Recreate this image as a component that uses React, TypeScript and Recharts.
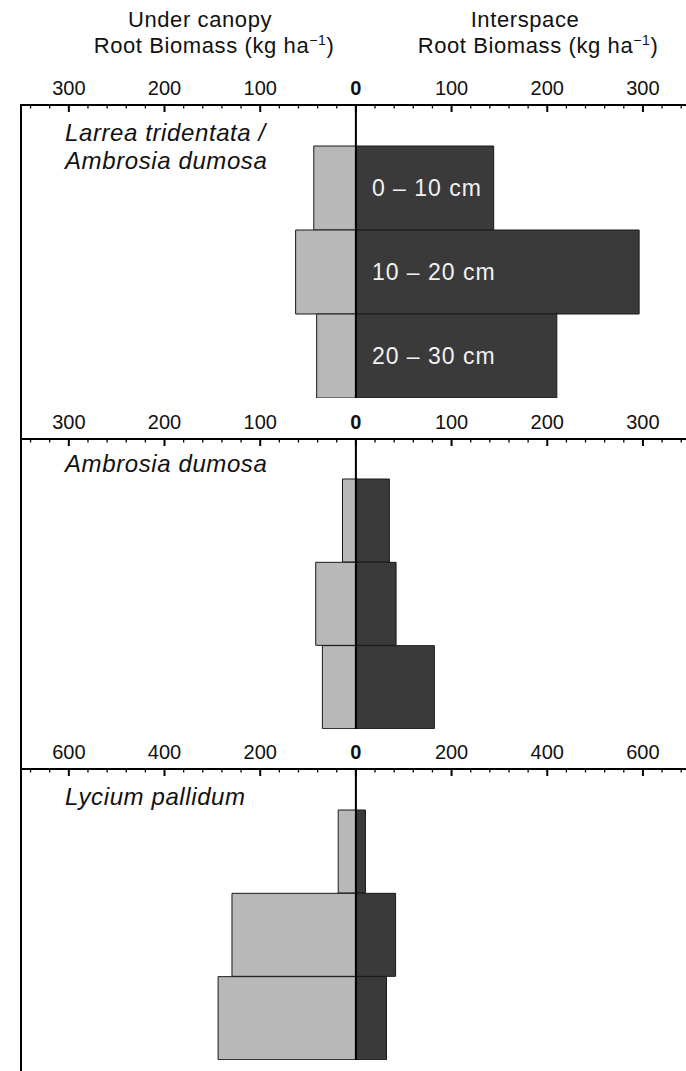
import React from 'react';
import { BarChart, Bar, XAxis, YAxis, ReferenceLine, LabelList } from 'recharts';

// Soil depth classes (categories)
const depths = ['0 – 10 cm', '10 – 20 cm', '20 – 30 cm'];

// Root biomass (kg ha-1) under canopy (drawn to the left) and in interspace (right)
const larreaUnder = [44, 63, 41];
const larreaInter = [144, 296, 210];
const ambrosiaUnder = [14, 42, 35];
const ambrosiaInter = [35, 42, 82];
const lyciumUnder = [37, 259, 288];
const lyciumInter = [20, 83, 64];

// Tick labels
const majorTicksSmall = [-300, -200, -100, 0, 100, 200, 300];
const majorTicksLarge = [-600, -400, -200, 0, 200, 400, 600];

const FONT = '"Liberation Sans", Arial, Helvetica, sans-serif';
const LIGHT = '#b8b8b8';
const DARK = '#3a3a3a';
const TICK_MARGIN = 10;

const buildRows = (under: number[], inter: number[]) =>
  depths.map((d, i) => ({ depth: d, under: -under[i], inter: inter[i] }));

const buildMinor = (limit: number, step: number) => {
  const out: number[] = [];
  for (let v = -limit; v <= limit; v += step) out.push(v);
  return out;
};

const makeTick = (majors: number[]) => (props: any) => {
  const { x, y, payload } = props;
  const v = payload.value;
  const isMajor = majors.includes(v);
  const axisY = y + TICK_MARGIN;
  return (
    <g>
      <line
        x1={x}
        x2={x}
        y1={axisY}
        y2={axisY + (isMajor ? 7 : 3.5)}
        stroke="#000"
        strokeWidth={isMajor ? 2 : 1.3}
      />
      {isMajor && (
        <text
          x={x}
          y={y}
          textAnchor="middle"
          fontSize={20}
          fontFamily={FONT}
          fontWeight={v === 0 ? 'bold' : 'normal'}
          fill="#111"
        >
          {Math.abs(v)}
        </text>
      )}
    </g>
  );
};

const renderDepth = (props: any) => {
  const { x, y, height, value } = props;
  return (
    <text
      x={x + 16}
      y={y + height / 2}
      dominantBaseline="central"
      fill="#f2f2f2"
      fontSize={23}
      letterSpacing={1}
      fontFamily={FONT}
    >
      {value}
    </text>
  );
};

type PanelProps = {
  top: number;
  height: number;
  padTop: number;
  under: number[];
  inter: number[];
  domain: [number, number];
  majors: number[];
  minorLimit: number;
  minorStep: number;
  showDepth?: boolean;
};

const Panel = (p: PanelProps) => {
  const rows = buildRows(p.under, p.inter);
  return (
    <div style={{ position: 'absolute', left: 0, top: p.top }}>
      <BarChart
        width={686}
        height={p.height}
        data={rows}
        layout="vertical"
        stackOffset="sign"
        barCategoryGap={0}
        margin={{ top: 0, right: 0, bottom: 0, left: 21 }}
      >
        <XAxis
          type="number"
          orientation="top"
          domain={p.domain}
          allowDataOverflow
          ticks={buildMinor(p.minorLimit, p.minorStep)}
          interval={0}
          tickSize={0}
          tickMargin={TICK_MARGIN}
          tick={makeTick(p.majors)}
          axisLine={{ stroke: '#000', strokeWidth: 2 }}
          height={30}
        />
        <YAxis type="category" dataKey="depth" hide padding={{ top: p.padTop, bottom: 0 }} />
        <Bar dataKey="under" stackId="s" fill={LIGHT} stroke="#1a1a1a" strokeWidth={1} isAnimationActive={false} />
        <Bar dataKey="inter" stackId="s" fill={DARK} stroke="#1a1a1a" strokeWidth={1} isAnimationActive={false}>
          {p.showDepth && <LabelList dataKey="depth" content={renderDepth} />}
        </Bar>
        <ReferenceLine x={0} stroke="#000" strokeWidth={2} />
      </BarChart>
    </div>
  );
};

export default function App() {
  return (
    <div
      style={{
        position: 'absolute',
        left: 0,
        top: 0,
        width: 686,
        height: 1071,
        overflow: 'hidden',
        background: '#fff',
        fontFamily: FONT,
      }}
    >
      <Panel
        top={75}
        height={323}
        padTop={41}
        under={larreaUnder}
        inter={larreaInter}
        domain={[-350, 345]}
        majors={majorTicksSmall}
        minorLimit={340}
        minorStep={20}
        showDepth
      />
      <Panel
        top={409}
        height={320}
        padTop={40}
        under={ambrosiaUnder}
        inter={ambrosiaInter}
        domain={[-350, 345]}
        majors={majorTicksSmall}
        minorLimit={340}
        minorStep={20}
      />
      <Panel
        top={739}
        height={321}
        padTop={41}
        under={lyciumUnder}
        inter={lyciumInter}
        domain={[-700, 690]}
        majors={majorTicksLarge}
        minorLimit={680}
        minorStep={40}
      />
      <div style={{ position: 'absolute', left: 20, top: 104, width: 2, height: 967, background: '#000' }} />
      <svg
        width={686}
        height={1071}
        style={{ position: 'absolute', left: 0, top: 0, pointerEvents: 'none' }}
      >
        <g fontFamily={FONT} fill="#111" fontSize={22} letterSpacing={0.6}>
          <text x={200} y={27} textAnchor="middle">Under canopy</text>
          <text x={214} y={53} textAnchor="middle">
            Root Biomass (kg ha<tspan fontSize={14} dy={-8}>−1</tspan>
            <tspan dy={8}>)</tspan>
          </text>
          <text x={525} y={27} textAnchor="middle">Interspace</text>
          <text x={538} y={53} textAnchor="middle">
            Root Biomass (kg ha<tspan fontSize={14} dy={-8}>−1</tspan>
            <tspan dy={8}>)</tspan>
          </text>
        </g>
        <g fontFamily={FONT} fill="#111" fontSize={24} fontStyle="italic" letterSpacing={0.6}>
          <text x={65} y={141}>Larrea tridentata /</text>
          <text x={65} y={169}>Ambrosia dumosa</text>
          <text x={65} y={472}>Ambrosia dumosa</text>
          <text x={65} y={805}>Lycium pallidum</text>
        </g>
      </svg>
    </div>
  );
}
